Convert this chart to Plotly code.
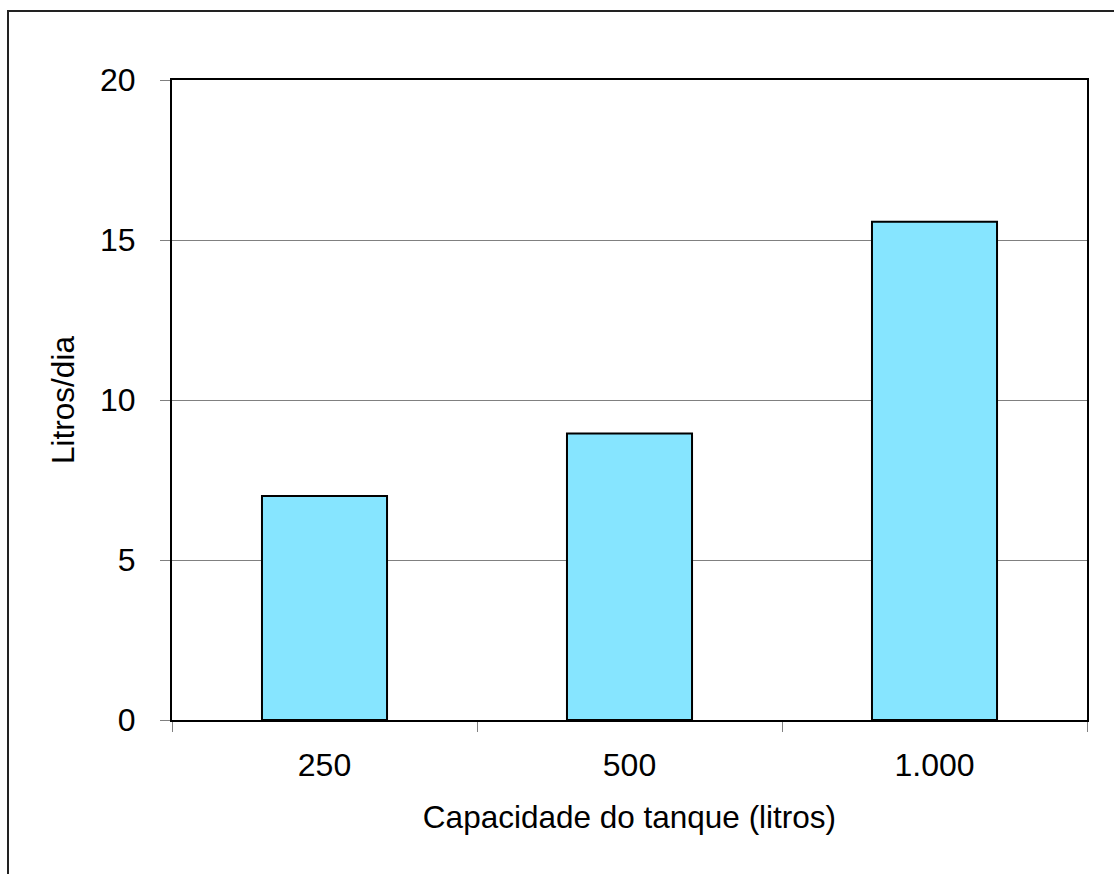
import plotly.graph_objects as go

categories = ["250", "500", "1.000"]
values = [7.0, 8.95, 15.57]
y_ticks = [0, 5, 10, 15, 20]

W, H = 1114, 874
L, R, T, B = 172, 27, 80, 154
pw = W - L - R
ph = H - T - B

fig = go.Figure(go.Bar(
    x=categories, y=values,
    width=0.41,
    marker=dict(color="#86E5FF", line=dict(color="black", width=2)),
))

font = "Liberation Sans, Arial, sans-serif"

fig.update_layout(
    width=W, height=H,
    margin=dict(l=L, r=R, t=T, b=B),
    paper_bgcolor="white", plot_bgcolor="white",
    showlegend=False,
    font=dict(family=font, size=31, color="black"),
)
fig.update_xaxes(
    type="category",
    showline=True, linecolor="black", linewidth=2, mirror=True,
    ticks="outside", tickson="boundaries", ticklen=10, tickcolor="#808080", tickwidth=1,
    tickfont=dict(size=32),
    ticklabelstandoff=16,
    title=dict(text="Capacidade do tanque (litros)", font=dict(size=31.5), standoff=24),
    showgrid=False,
)
fig.update_yaxes(
    range=[0, 20], tickvals=y_ticks,
    showline=True, linecolor="black", linewidth=2, mirror=True,
    ticks="outside", ticklen=10, tickcolor="#808080", tickwidth=1,
    tickfont=dict(size=32),
    ticklabelstandoff=18,
    showgrid=True, gridcolor="#808080", gridwidth=1,
    zeroline=False,
    title=dict(text="Litros/dia", font=dict(size=31.5), standoff=16),
)

# outer chart-area frame (extends past right/bottom edges of the image)
x0 = (8 - L) / pw
y1 = (H - B - 11) / ph
fig.add_shape(type="rect", xref="paper", yref="paper",
              x0=x0, x1=1.2, y0=-0.5, y1=y1,
              line=dict(color="#222222", width=2), layer="below")

fig.write_html("out.html", config={"displayModeBar": False},
               post_script="document.body.style.margin='0';")
